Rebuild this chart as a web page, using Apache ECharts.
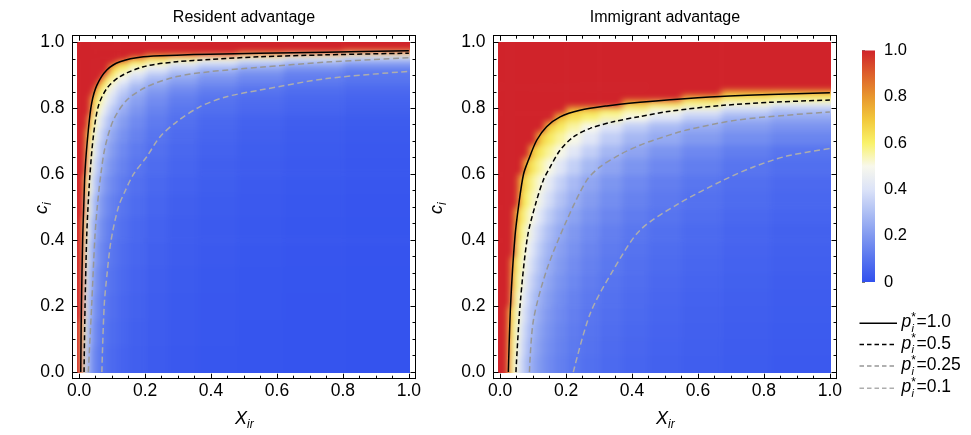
<!DOCTYPE html>
<html><head><meta charset="utf-8">
<script src="https://cdn.jsdelivr.net/npm/echarts@6/dist/echarts.min.js"></script>
<style>
html,body{margin:0;padding:0;background:#fff}
#wrap{position:relative;width:971px;height:435px;overflow:hidden}
#c{position:absolute;left:0;top:0;width:971px;height:435px;z-index:2}
.heat{position:absolute;z-index:1;filter:blur(3.4px)}
</style>
</head><body><div id="wrap"><div id="h0" class="heat"></div><div id="h1" class="heat"></div><div id="c"></div></div>
<script>
const panelTitles = ['Resident advantage', 'Immigrant advantage'];
const tickLabels = ['0.0', '0.2', '0.4', '0.6', '0.8', '1.0'];
const colorbarLabels = ['0', '0.2', '0.4', '0.6', '0.8', '1.0'];
const legendLabels = ['1.0', '0.5', '0.25', '0.1'];
const colorStops = ['#3150ee', '#5774ef', '#8199f0', '#aebff4', '#dce3f8', '#f8f8ec', '#f9f26a', '#f2c93c', '#e8972e', '#dd5f2b', '#d0232a'];

const resXEdges = [-0.006, 0.004, 0.009, 0.014, 0.02, 0.027, 0.035, 0.045, 0.057, 0.072, 0.09, 0.115, 0.15, 0.2, 0.27, 0.36, 0.48, 0.62, 0.8, 1.003];
const resCEdges = [0, 0.08, 0.16, 0.24, 0.32, 0.4, 0.47, 0.54, 0.6, 0.65, 0.7, 0.74, 0.78, 0.81, 0.84, 0.865, 0.885, 0.905, 0.92, 0.935, 0.945, 0.955, 0.963, 0.97, 0.977, 0.985, 1.0];
const resValues = [
  [1, .68, .56, .42, .31, .23, .18, .14, .11, .09, .07, .054, .041, .031, .023, .017, .013, .01, .008],
  [1, .7, .585, .46, .34, .25, .2, .155, .12, .098, .077, .06, .045, .034, .025, .019, .014, .011, .009],
  [1, 1, .61, .505, .37, .28, .215, .17, .133, .106, .084, .065, .049, .037, .027, .02, .016, .012, .01],
  [1, 1, .64, .52, .4, .3, .235, .184, .146, .116, .092, .071, .054, .04, .03, .022, .017, .013, .01],
  [1, 1, .68, .555, .45, .34, .26, .206, .163, .13, .102, .079, .06, .045, .033, .025, .019, .015, .012],
  [1, 1, .71, .585, .5, .38, .295, .23, .183, .146, .115, .089, .067, .05, .037, .028, .021, .017, .013],
  [1, 1, 1, .63, .53, .435, .34, .265, .21, .167, .132, .102, .077, .057, .043, .032, .025, .019, .015],
  [1, 1, 1, .69, .58, .505, .395, .31, .245, .195, .154, .119, .09, .067, .05, .038, .029, .022, .018],
  [1, 1, 1, 1, .62, .54, .455, .357, .282, .225, .178, .137, .104, .077, .058, .043, .033, .026, .02],
  [1, 1, 1, 1, .67, .58, .51, .41, .325, .26, .205, .158, .12, .089, .067, .05, .038, .03, .023],
  [1, 1, 1, 1, .71, .62, .545, .47, .37, .296, .234, .181, .137, .102, .076, .057, .044, .034, .027],
  [1, 1, 1, 1, 1, .68, .59, .52, .434, .346, .273, .211, .16, .119, .089, .067, .051, .04, .032],
  [1, 1, 1, 1, 1, 1, .64, .57, .505, .41, .32, .25, .19, .14, .105, .085, .068, .055, .045],
  [1, 1, 1, 1, 1, 1, .7, .62, .545, .48, .38, .29, .22, .166, .124, .097, .078, .064, .053],
  [1, 1, 1, 1, 1, 1, 1, .69, .6, .52, .44, .34, .26, .2, .155, .122, .098, .08, .068],
  [1, 1, 1, 1, 1, 1, 1, 1, .68, .59, .51, .4, .31, .25, .2, .16, .13, .105, .088],
  [1, 1, 1, 1, 1, 1, 1, 1, 1, .66, .57, .49, .38, .3, .24, .19, .155, .125, .105],
  [1, 1, 1, 1, 1, 1, 1, 1, 1, 1, .635, .55, .47, .38, .31, .25, .2, .15, .115],
  [1, 1, 1, 1, 1, 1, 1, 1, 1, 1, .71, .62, .535, .46, .37, .31, .26, .21, .17],
  [1, 1, 1, 1, 1, 1, 1, 1, 1, 1, 1, .69, .6, .545, .48, .4, .34, .29, .24],
  [1, 1, 1, 1, 1, 1, 1, 1, 1, 1, 1, 1, .69, .62, .555, .5, .42, .36, .3],
  [1, 1, 1, 1, 1, 1, 1, 1, 1, 1, 1, 1, 1, .71, .66, .6, .545, .5, .44],
  [1, 1, 1, 1, 1, 1, 1, 1, 1, 1, 1, 1, 1, 1, 1, 1, .71, .63, .545],
  [1, 1, 1, 1, 1, 1, 1, 1, 1, 1, 1, 1, 1, 1, 1, 1, 1, 1, .8],
  [1, 1, 1, 1, 1, 1, 1, 1, 1, 1, 1, 1, 1, 1, 1, 1, 1, 1, 1],
  [1, 1, 1, 1, 1, 1, 1, 1, 1, 1, 1, 1, 1, 1, 1, 1, 1, 1, 1]
];

// Immigrant advantage
const immXEdges = [-0.006, 0.008, 0.016, 0.024, 0.033, 0.043, 0.055, 0.07, 0.088, 0.11, 0.135, 0.165, 0.2, 0.245, 0.3, 0.37, 0.45, 0.55, 0.67, 0.82, 1.003];
const immCEdges = [0, 0.05, 0.1, 0.15, 0.2, 0.25, 0.3, 0.35, 0.4, 0.45, 0.5, 0.55, 0.6, 0.65, 0.69, 0.73, 0.76, 0.785, 0.805, 0.825, 0.84, 0.855, 0.87, 1.0];
const immValues = [
  [1, 1, 1, .65, .56, .49, .384, .304, .242, .196, .16, .132, .108, .088, .072, .059, .048, .039, .032, .026],
  [1, 1, 1, .68, .58, .51, .408, .323, .258, .208, .17, .14, .115, .094, .076, .062, .051, .042, .034, .028],
  [1, 1, 1, .7, .595, .52, .432, .342, .273, .22, .18, .148, .121, .099, .081, .066, .054, .044, .036, .03],
  [1, 1, 1, .72, .62, .54, .464, .367, .293, .237, .193, .159, .13, .106, .087, .071, .058, .048, .039, .032],
  [1, 1, 1, 1, .64, .56, .5, .392, .313, .253, .207, .17, .139, .114, .093, .076, .062, .051, .042, .034],
  [1, 1, 1, 1, .68, .59, .52, .43, .343, .278, .227, .186, .153, .125, .101, .083, .068, .056, .046, .037],
  [1, 1, 1, 1, .71, .61, .54, .468, .374, .302, .247, .203, .166, .136, .11, .09, .074, .061, .05, .041],
  [1, 1, 1, 1, 1, .64, .565, .5, .404, .327, .267, .219, .18, .147, .119, .098, .08, .066, .054, .044],
  [1, 1, 1, 1, 1, .68, .59, .525, .444, .359, .293, .241, .198, .161, .131, .107, .088, .072, .059, .048],
  [1, 1, 1, 1, 1, .72, .635, .56, .5, .408, .333, .274, .225, .183, .149, .122, .1, .082, .067, .055],
  [1, 1, 1, 1, 1, 1, .68, .6, .535, .465, .38, .312, .256, .209, .17, .139, .114, .093, .077, .063],
  [1, 1, 1, 1, 1, 1, .72, .64, .565, .51, .427, .351, .288, .235, .191, .156, .128, .105, .086, .07],
  [1, 1, 1, 1, 1, 1, 1, .71, .63, .56, .505, .42, .346, .283, .23, .188, .154, .126, .103, .085],
  [1, 1, 1, 1, 1, 1, 1, 1, .7, .62, .56, .505, .42, .345, .28, .23, .188, .154, .126, .103],
  [1, 1, 1, 1, 1, 1, 1, 1, 1, .7, .62, .56, .505, .42, .34, .28, .245, .205, .17, .145],
  [1, 1, 1, 1, 1, 1, 1, 1, 1, 1, .69, .62, .555, .5, .41, .34, .29, .25, .21, .185],
  [1, 1, 1, 1, 1, 1, 1, 1, 1, 1, 1, .71, .64, .59, .545, .5, .41, .34, .27, .24],
  [1, 1, 1, 1, 1, 1, 1, 1, 1, 1, 1, 1, .71, .68, .61, .555, .51, .44, .36, .3],
  [1, 1, 1, 1, 1, 1, 1, 1, 1, 1, 1, 1, 1, 1, 1, .7, .635, .57, .51, .45],
  [1, 1, 1, 1, 1, 1, 1, 1, 1, 1, 1, 1, 1, 1, 1, 1, 1, .7, .635, .59],
  [1, 1, 1, 1, 1, 1, 1, 1, 1, 1, 1, 1, 1, 1, 1, 1, 1, 1, .71, .7],
  [1, 1, 1, 1, 1, 1, 1, 1, 1, 1, 1, 1, 1, 1, 1, 1, 1, 1, 1, 1],
  [1, 1, 1, 1, 1, 1, 1, 1, 1, 1, 1, 1, 1, 1, 1, 1, 1, 1, 1, 1]
];

// Contour lines [X, c]
const resP1 = [[0.005, 0], [0.007, 0.2], [0.011, 0.41], [0.014, 0.5], [0.018, 0.61], [0.028, 0.734], [0.038, 0.815], [0.054, 0.87], [0.084, 0.916], [0.124, 0.941], [0.195, 0.956], [0.296, 0.961], [0.397, 0.964], [0.548, 0.967], [0.75, 0.97], [1.0, 0.974]];
const resP05 = [[0.015, 0], [0.018, 0.2], [0.023, 0.41], [0.027, 0.5], [0.033, 0.6], [0.043, 0.713], [0.058, 0.805], [0.084, 0.86], [0.124, 0.896], [0.195, 0.926], [0.296, 0.941], [0.397, 0.948], [0.548, 0.956], [0.75, 0.962], [1.0, 0.967]];
const resP025 = [[0.028, 0], [0.038, 0.2], [0.048, 0.41], [0.055, 0.5], [0.066, 0.6], [0.079, 0.683], [0.104, 0.764], [0.145, 0.825], [0.205, 0.865], [0.296, 0.896], [0.397, 0.911], [0.548, 0.924], [0.75, 0.94], [1.0, 0.953]];
const resP01 = [[0.069, 0], [0.076, 0.2], [0.085, 0.3], [0.097, 0.4], [0.119, 0.5], [0.14, 0.55], [0.165, 0.6], [0.205, 0.653], [0.245, 0.713], [0.296, 0.759], [0.367, 0.805], [0.447, 0.835], [0.548, 0.855], [0.75, 0.89], [1.0, 0.912]];
const immP1 = [[0.025, 0], [0.032, 0.208], [0.045, 0.41], [0.057, 0.511], [0.071, 0.6], [0.086, 0.643], [0.111, 0.703], [0.141, 0.744], [0.182, 0.774], [0.242, 0.794], [0.323, 0.807], [0.424, 0.818], [0.515, 0.826], [0.667, 0.836], [0.818, 0.842], [1.0, 0.847]];
const immP05 = [[0.048, 0], [0.061, 0.208], [0.083, 0.41], [0.108, 0.511], [0.131, 0.582], [0.152, 0.622], [0.182, 0.673], [0.222, 0.713], [0.273, 0.739], [0.343, 0.759], [0.424, 0.775], [0.515, 0.791], [0.667, 0.808], [0.818, 0.818], [1.0, 0.825]];
const immP025 = [[0.089, 0], [0.101, 0.157], [0.141, 0.309], [0.202, 0.46], [0.263, 0.582], [0.303, 0.622], [0.364, 0.66], [0.424, 0.688], [0.465, 0.703], [0.566, 0.734], [0.717, 0.764], [0.869, 0.779], [1.0, 0.789]];
const immP01 = [[0.222, 0], [0.273, 0.177], [0.343, 0.309], [0.424, 0.43], [0.54, 0.51], [0.677, 0.582], [0.768, 0.622], [0.869, 0.655], [1.0, 0.678]];

const FONT = 'Liberation Sans, Arial, Helvetica, sans-serif';
const AX_MIN = -0.02, AX_MAX = 1.02;
const GRID_TOP = 35.7, GRID_SIZE = 343, GRID_LEFTS = [72.5, 493.5];
const PAD = 14;

function buildCells(xEdges, cEdges, values) {
  const out = [];
  for (let i = 0; i < values.length; i++)
    for (let j = 0; j < values[i].length; j++)
      out.push([xEdges[j], xEdges[j + 1], cEdges[i], cEdges[i + 1], values[i][j]]);
  return out;
}
function tickFmt(v) {
  const k = Math.round(v / 0.2);
  return (Math.abs(v - k * 0.2) < 1e-6 && k >= 0 && k < tickLabels.length) ? tickLabels[k] : '';
}
function makeCellRenderer(xEdges, cEdges) {
  const xLo = xEdges[0], xHi = xEdges[xEdges.length - 1], cLo = cEdges[0], cHi = cEdges[cEdges.length - 1];
  return function (params, api) {
    const x0 = api.value(0), x1 = api.value(1), c0 = api.value(2), c1 = api.value(3);
    const a = api.coord([x0, c1]), b = api.coord([x1, c0]);
    let L = a[0] - 0.35, T = a[1] - 0.35, R = b[0] + 0.35, B = b[1] + 0.35;
    if (x0 <= xLo) L -= PAD;
    if (x1 >= xHi) R += PAD;
    if (c0 <= cLo) B += PAD;
    if (c1 >= cHi) T -= PAD;
    return { type: 'rect', shape: { x: L, y: T, width: R - L, height: B - T }, style: { fill: api.visual('color') } };
  };
}
function renderBar(params, api) {
  const a = api.coord([api.value(0), api.value(3)]);
  const b = api.coord([api.value(1), api.value(2)]);
  const stops = colorStops.map((c, i) => ({ offset: i / (colorStops.length - 1), color: c }));
  return { type: 'rect', shape: { x: a[0], y: a[1], width: b[0] - a[0], height: b[1] - a[1] }, style: { fill: new echarts.graphic.LinearGradient(0, 1, 0, 0, stops) } };
}

// heat layers (one per panel, softened like a density plot, clipped to the data area)
const scale = GRID_SIZE / (AX_MAX - AX_MIN);
function makeHeat(id, g, xEdges, cEdges, values) {
  const el = document.getElementById(id);
  const w = GRID_SIZE + 2 * PAD;
  el.style.left = (GRID_LEFTS[g] - PAD) + 'px';
  el.style.top = (GRID_TOP - PAD) + 'px';
  el.style.width = w + 'px';
  el.style.height = w + 'px';
  const il = PAD + (xEdges[0] - AX_MIN) * scale;
  const ir = PAD + (AX_MAX - xEdges[xEdges.length - 1]) * scale;
  const it = PAD + (AX_MAX - cEdges[cEdges.length - 1]) * scale;
  const ib = PAD + (cEdges[0] - AX_MIN) * scale;
  el.style.clipPath = `inset(${it}px ${ir}px ${ib}px ${il}px)`;
  const ch = echarts.init(el, null, { renderer: 'canvas' });
  ch.setOption({
    animation: false,
    grid: { left: PAD, top: PAD, width: GRID_SIZE, height: GRID_SIZE },
    xAxis: { type: 'value', min: AX_MIN, max: AX_MAX, show: false },
    yAxis: { type: 'value', min: AX_MIN, max: AX_MAX, show: false },
    visualMap: { type: 'continuous', show: false, min: 0, max: 1, dimension: 4, seriesIndex: 0, inRange: { color: colorStops } },
    series: [{ type: 'custom', data: buildCells(xEdges, cEdges, values), renderItem: makeCellRenderer(xEdges, cEdges), encode: { x: [0, 1], y: [2, 3] }, silent: true }]
  });
}
makeHeat('h0', 0, resXEdges, resCEdges, resValues);
makeHeat('h1', 1, immXEdges, immCEdges, immValues);

// main chart: axes, contour lines, colour bar, text
const grids = [
  { left: GRID_LEFTS[0], top: GRID_TOP, width: GRID_SIZE, height: GRID_SIZE },
  { left: GRID_LEFTS[1], top: GRID_TOP, width: GRID_SIZE, height: GRID_SIZE },
  { left: 862, top: 50.5, width: 13, height: 231.5 }
];
const xAxes = [], yAxes = [];
for (let g = 0; g < 2; g++) {
  const common = {
    gridIndex: g, type: 'value', min: AX_MIN, max: AX_MAX,
    axisLine: { onZero: false, lineStyle: { color: '#000', width: 1 } },
    axisTick: { inside: true, length: 5, lineStyle: { color: '#000', width: 1 } },
    minorTick: { show: true, splitNumber: 4, length: 3, lineStyle: { color: '#000', width: 1 } },
    splitLine: { show: false }, minorSplitLine: { show: false }
  };
  xAxes.push(Object.assign({}, common, { position: 'bottom', axisLabel: { formatter: tickFmt, fontSize: 17.5, color: '#000', margin: 3, fontFamily: FONT } }));
  xAxes.push(Object.assign({}, common, { position: 'top', axisLabel: { show: false } }));
  yAxes.push(Object.assign({}, common, { position: 'left', axisLabel: { formatter: tickFmt, fontSize: 17.5, color: '#000', margin: 8, fontFamily: FONT } }));
  yAxes.push(Object.assign({}, common, { position: 'right', axisLabel: { show: false } }));
}
xAxes.push({ gridIndex: 2, type: 'value', min: 0, max: 1, show: false });
yAxes.push({
  gridIndex: 2, type: 'value', min: 0, max: 1, interval: 0.2, position: 'right',
  axisLine: { show: false },
  axisTick: { show: true, inside: false, length: 3, lineStyle: { color: '#777', width: 1 } },
  minorTick: { show: true, splitNumber: 4, length: 3, lineStyle: { color: '#777', width: 1 } },
  splitLine: { show: false },
  axisLabel: { formatter: v => colorbarLabels[Math.round(v / 0.2)], fontSize: 16.5, color: '#000', margin: 9, fontFamily: FONT }
});

const lineDefs = [
  { color: '#000', type: 'solid' },
  { color: '#000', type: [5, 3] },
  { color: '#979797', type: [6, 3.5] },
  { color: '#adadad', type: [6, 3.5] }
];
const panelLines = [[resP1, resP05, resP025, resP01], [immP1, immP05, immP025, immP01]];

const series = [
  { type: 'custom', xAxisIndex: 4, yAxisIndex: 4, data: [[0, 1, 0, 1]], renderItem: renderBar, encode: { x: [0, 1], y: [2, 3] }, silent: true, z: 1 }
];
for (let g = 0; g < 2; g++) {
  panelLines[g].forEach((d, k) => {
    series.push({
      type: 'line', xAxisIndex: g * 2, yAxisIndex: g * 2, data: d, symbol: 'none', smooth: 0.3,
      lineStyle: { color: lineDefs[k].color, type: lineDefs[k].type, width: 1.5 }, silent: true, z: 3
    });
  });
}

const graphics = [];
const titleCenters = [244, 665];
panelTitles.forEach((t, i) => {
  graphics.push({ type: 'text', x: titleCenters[i], y: 18, style: { text: t, font: '16px ' + FONT, fill: '#000', textAlign: 'center', textVerticalAlign: 'middle' } });
  const xs = titleCenters[i] - 9;
  graphics.push({ type: 'text', x: xs, y: 418.8, style: { text: 'X', font: 'italic 18px ' + FONT, fill: '#000', textAlign: 'left', textVerticalAlign: 'middle' } });
  graphics.push({ type: 'text', x: xs + 12, y: 424.8, style: { text: 'ir', font: 'italic 12px ' + FONT, fill: '#000', textAlign: 'left', textVerticalAlign: 'middle' } });
});
[48, 443].forEach(bx => {
  graphics.push({
    type: 'group', x: bx, y: 214, rotation: Math.PI / 2,
    children: [
      { type: 'text', x: 0, y: -6.2, style: { text: 'c', font: 'italic 18px ' + FONT, fill: '#000', textAlign: 'left', textVerticalAlign: 'middle' } },
      { type: 'text', x: 9, y: 0, style: { text: 'i', font: 'italic 12px ' + FONT, fill: '#000', textAlign: 'left', textVerticalAlign: 'middle' } }
    ]
  });
});
const legendY = [323.3, 344.5, 366, 388.3];
legendLabels.forEach((lab, k) => {
  const L = legendY[k];
  graphics.push({ type: 'line', shape: { x1: 859.5, y1: L, x2: 897, y2: L }, style: { stroke: lineDefs[k].color, lineWidth: 1.5, lineDash: lineDefs[k].type === 'solid' ? null : [4.5, 3] } });
  graphics.push({ type: 'text', x: 901.5, y: L - 0.8, style: { text: 'p', font: 'italic 17.5px ' + FONT, fill: '#000', textAlign: 'left', textVerticalAlign: 'middle' } });
  graphics.push({ type: 'text', x: 911.5, y: L + 5.5, style: { text: 'i', font: 'italic 11px ' + FONT, fill: '#000', textAlign: 'left', textVerticalAlign: 'middle' } });
  graphics.push({ type: 'text', x: 911.2, y: L - 5.5, style: { text: '*', font: '12px ' + FONT, fill: '#000', textAlign: 'left', textVerticalAlign: 'middle' } });
  graphics.push({ type: 'text', x: 916.5, y: L - 0.8, style: { text: '=' + lab, font: '17.5px ' + FONT, fill: '#000', textAlign: 'left', textVerticalAlign: 'middle' } });
});

const chart = echarts.init(document.getElementById('c'), null, { renderer: 'canvas' });
chart.setOption({
  animation: false,
  backgroundColor: 'transparent',
  grid: grids,
  xAxis: xAxes,
  yAxis: yAxes,
  series: series,
  graphic: graphics
});
</script></body></html>
